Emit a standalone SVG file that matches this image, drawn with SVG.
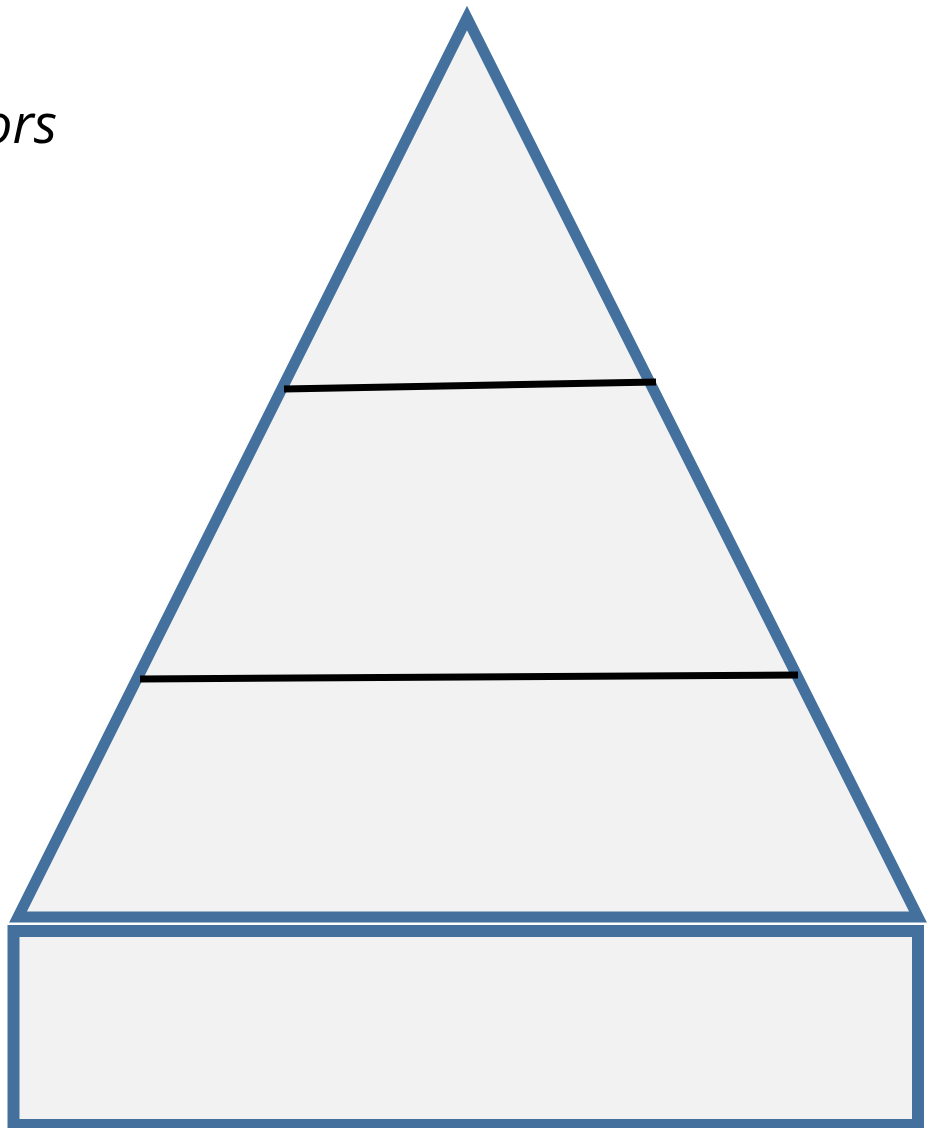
<svg xmlns="http://www.w3.org/2000/svg" width="936" height="1128" viewBox="0 0 936 1128">
<style>
.shape{fill:#f2f2f2;stroke:#44709d;stroke-width:11;stroke-miterlimit:10}
.div{stroke:#000;stroke-width:7;fill:none}
.lbl{font-family:"Open Sans",sans-serif;font-style:italic;font-size:54px;fill:#000}
</style>
<rect width="936" height="1128" fill="#fff"/>
<g id="pyramid">
<polygon class="shape" points="467,18 18,917 918,917"/>
</g>
<g id="base">
<rect class="shape" x="13.5" y="931" width="904.5" height="194" style="stroke-width:12"/>
</g>
<g id="connectors">
<line class="div" x1="284" y1="389" x2="656" y2="382"/>
<line class="div" x1="140" y1="679" x2="798" y2="675"/>
</g>
<g id="label">
<text class="lbl" x="57" y="143" text-anchor="end">ors</text>
</g>
</svg>
